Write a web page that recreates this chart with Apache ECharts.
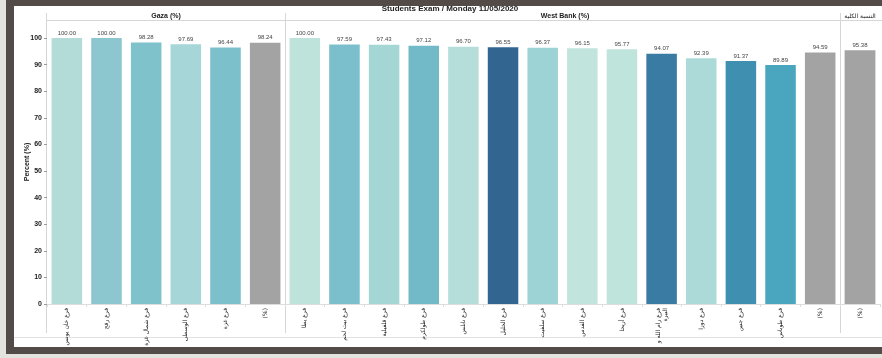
<!DOCTYPE html>
<html>
<head>
<meta charset="utf-8">
<script src="https://cdn.jsdelivr.net/npm/echarts@6/dist/echarts.min.js"></script>
<style>
  html, body { margin:0; padding:0; width:882px; height:358px; overflow:hidden; background:#e4e3de; }
  #frame { position:absolute; left:6px; top:0; width:876px; height:354px; background:#534b48; }
  #inner { position:absolute; left:14px; top:6px; width:868px; height:341px; background:#ffffff; }
  #chart { position:absolute; left:0; top:0; width:882px; height:358px; }
</style>
</head>
<body>
<div id="frame"></div>
<div id="inner"></div>
<div id="chart"></div>
<script>
const titleText = 'Students Exam / Monday 11/05/2020';
const panelTitles = ['Gaza (%)', 'West Bank (%)', 'النسبة الكلية'];

const gazaCats = ['فرع خان يونس', 'فرع رفح', 'فرع شمال غزة', 'فرع الوسطى', 'فرع غزة', '(%)'];
const gazaVals = [100.00, 100.00, 98.28, 97.69, 96.44, 98.24];

const westCats = ['فرع يطا', 'فرع بيت لحم', 'فرع قلقيلية', 'فرع طولكرم', 'فرع نابلس', 'فرع الخليل',
  'فرع سلفيت', 'فرع القدس', 'فرع أريحا', 'فرع رام الله و\nالبيرة', 'فرع دورا', 'فرع جنين', 'فرع طوباس', '(%)'];
const westVals = [100.00, 97.59, 97.43, 97.12, 96.70, 96.55, 96.37, 96.15, 95.77, 94.07, 92.39, 91.37, 89.89, 94.59];

const totalCats = ['(%)'];
const totalVals = [95.38];

const gazaColors = ['#b3dcd9', '#8cc6cf', '#7fc2cc', '#a6d6d7', '#7cc0cc', '#a3a3a3'];
const westColors = ['#bde3db', '#7cbfcc', '#a5d6d6', '#72bac8', '#b5dedb', '#336591', '#9dd3d5',
  '#c1e5dc', '#bfe4dc', '#3a7ba3', '#acdad8', '#3e8fb0', '#4aa5bf', '#a3a3a3'];
const totalColors = ['#a3a3a3'];

const chart = echarts.init(document.getElementById('chart'), null, { renderer: 'canvas' });

const panels = [
  { cats: gazaCats, vals: gazaVals, colors: gazaColors, left: 47, width: 238 },
  { cats: westCats, vals: westVals, colors: westColors, left: 285, width: 555 },
  { cats: totalCats, vals: totalVals, colors: totalColors, left: 840, width: 40 }
];

const grids = [], xAxes = [], yAxes = [], series = [];
panels.forEach((p, i) => {
  grids.push({ left: p.left, width: p.width, top: 38, height: 266, containLabel: false });
  xAxes.push({
    type: 'category', gridIndex: i, data: p.cats,
    axisLine: { show: true, lineStyle: { color: '#dddddd', width: 1 } },
    axisTick: { show: true, length: 3, lineStyle: { color: '#dddddd' } },
    axisLabel: { rotate: 90, fontSize: 6, color: '#222', margin: 4, interval: 0,
      fontFamily: 'DejaVu Sans', lineHeight: 7 }
  });
  yAxes.push({
    type: 'value', gridIndex: i, min: 0, max: 100, interval: 10,
    axisLine: { show: false },
    axisTick: { show: i === 0, length: 3, lineStyle: { color: '#999' } },
    axisLabel: { show: i === 0, fontSize: 7, fontWeight: 'bold', color: '#222', margin: 5,
      fontFamily: 'Liberation Sans' },
    splitLine: { show: false }
  });
  series.push({
    type: 'bar', xAxisIndex: i, yAxisIndex: i, barWidth: '77%',
    data: p.vals.map((v, k) => ({ value: v, itemStyle: { color: p.colors[k] } })),
    label: { show: true, position: 'top', distance: 2, fontSize: 6, color: '#444',
      fontFamily: 'Liberation Sans', formatter: (d) => d.value.toFixed(2) }
  });
});

const lineStyle = { stroke: '#d6d6d6', lineWidth: 1 };
const graphics = [
  { type: 'line', shape: { x1: 46.5, y1: 13, x2: 46.5, y2: 333 }, style: lineStyle, silent: true },
  { type: 'line', shape: { x1: 285.5, y1: 13, x2: 285.5, y2: 333 }, style: lineStyle, silent: true },
  { type: 'line', shape: { x1: 840.5, y1: 13, x2: 840.5, y2: 333 }, style: lineStyle, silent: true },
  { type: 'line', shape: { x1: 46, y1: 20.5, x2: 882, y2: 20.5 }, style: lineStyle, silent: true },
  { type: 'line', shape: { x1: 14, y1: 337.5, x2: 882, y2: 337.5 }, style: { stroke: '#e2e2e2', lineWidth: 1 }, silent: true },
  { type: 'text', x: 450, y: 9, style: { text: titleText, fill: '#222', font: 'bold 8px "Liberation Sans"', textAlign: 'center', textVerticalAlign: 'middle' } },
  { type: 'text', x: 166, y: 16, style: { text: panelTitles[0], fill: '#222', font: 'bold 7px "Liberation Sans"', textAlign: 'center', textVerticalAlign: 'middle' } },
  { type: 'text', x: 565, y: 16, style: { text: panelTitles[1], fill: '#222', font: 'bold 7px "Liberation Sans"', textAlign: 'center', textVerticalAlign: 'middle' } },
  { type: 'text', x: 860, y: 16, style: { text: panelTitles[2], fill: '#222', font: '6px "DejaVu Sans"', textAlign: 'center', textVerticalAlign: 'middle' } },
  { type: 'text', x: 27, y: 162, rotation: Math.PI / 2, style: { text: 'Percent (%)', fill: '#222', font: 'bold 7px "Liberation Sans"', textAlign: 'center', textVerticalAlign: 'middle' } }
];

chart.setOption({
  animation: false,
  backgroundColor: 'transparent',
  grid: grids,
  xAxis: xAxes,
  yAxis: yAxes,
  series: series,
  graphic: graphics
});
</script>
</body>
</html>
